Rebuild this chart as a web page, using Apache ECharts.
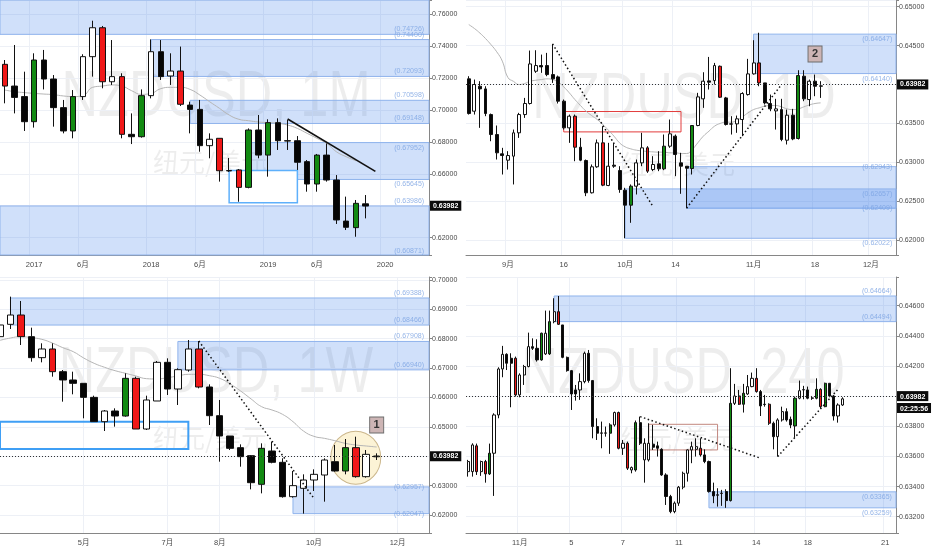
<!DOCTYPE html>
<html>
<head>
<meta charset="utf-8">
<title>NZDUSD</title>
<script src="https://cdn.jsdelivr.net/npm/echarts@6/dist/echarts.min.js"></script>
<style>
  html, body { margin: 0; padding: 0; background: #fff; }
  #main { width: 932px; height: 550px; }
</style>
</head>
<body>
<div id="main"></div>
<script>
// ---------- data ----------
// monthly (top left)
const tlMonths = ['2016-10','2016-11','2016-12',
  '2017-01','2017-02','2017-03','2017-04','2017-05','2017-06','2017-07','2017-08','2017-09','2017-10','2017-11','2017-12',
  '2018-01','2018-02','2018-03','2018-04','2018-05','2018-06','2018-07','2018-08','2018-09','2018-10','2018-11','2018-12',
  '2019-01','2019-02','2019-03','2019-04','2019-05','2019-06','2019-07','2019-08','2019-09','2019-10','2019-11','2019-12',
  '2020-01','2020-02','2020-03','2020-04','2020-05'];
const tlTicks = {'2017-01': '2017', '2017-06': '6月', '2018-01': '2018', '2018-06': '6月',
  '2019-01': '2019', '2019-06': '6月', '2020-01': '2020'};
// [open, close, low, high]
const tlOHLC = [
  [0.7285,0.7149,0.7041,0.7312],[0.7149,0.7078,0.6978,0.7406],[0.7083,0.6926,0.6868,0.7239],[0.6926,0.7312,0.6889,0.7354],
  [0.7312,0.7193,0.7128,0.7375],[0.7193,0.7014,0.6895,0.7218],[0.7014,0.6868,0.6853,0.7062],[0.6868,0.7083,0.6822,0.7124],
  [0.7083,0.7333,0.7062,0.7348],[0.7333,0.7514,0.7208,0.7558],[0.7514,0.7176,0.7135,0.7525],[0.7176,0.7208,0.7156,0.7437],
  [0.7208,0.6847,0.6822,0.7229],[0.6847,0.6832,0.6786,0.6978],[0.6832,0.7089,0.6826,0.7128],[0.7089,0.7364,0.7072,0.7441],
  [0.7364,0.7208,0.7187,0.7437],[0.7212,0.7243,0.7156,0.7354],[0.7243,0.7035,0.7024,0.7396],[0.7030,0.7003,0.6853,0.7051],
  [0.7003,0.6776,0.6738,0.7062],[0.6776,0.6816,0.6697,0.6853],[0.6822,0.6619,0.6551,0.6822],[0.6620,0.6618,0.6612,0.6699],
  [0.6624,0.6515,0.6425,0.6630],[0.6515,0.6874,0.6509,0.6884],[0.6874,0.6717,0.6697,0.6968],[0.6717,0.6920,0.6582,0.6941],
  [0.6920,0.6807,0.6749,0.6947],[0.6807,0.6805,0.6749,0.6937],[0.6807,0.6672,0.6624,0.6836],[0.6676,0.6536,0.6488,0.6686],
  [0.6536,0.6717,0.6488,0.6724],[0.6717,0.6561,0.6551,0.6790],[0.6561,0.6311,0.6286,0.6592],[0.6304,0.6265,0.6248,0.6457],
  [0.6263,0.6415,0.6206,0.6436],[0.6412,0.6398,0.6321,0.6467]];
const tlKinds = 'rbbgbbbgwwrwrbgwbwrbbwrbrgbgbbbbgbbbgb';
const tlMA = [0.7124,0.7114,0.7108,0.7103,0.7099,0.7095,0.7087,0.7083,0.7089,0.7141,0.7149,0.7156,0.7149,0.7120,0.7097,
  0.7103,0.7133,0.7141,0.7141,0.7128,0.7093,0.7051,0.7010,0.6968,0.6941,0.6932,0.6924,0.6920,0.6916,0.6905,0.6884,
  0.6853,0.6822,0.6790,0.6738,0.6707,0.6682];
const tlZones = [[null,0.74726,0.80],[15,0.72093,0.74400],[19,0.69148,0.70598],[25,0.65645,0.67952],[null,0.50,0.63986]];
const tlBox = [23, 30, 0.6419, 0.6620];
const tlLevels = [0.74726,0.74400,0.72093,0.70598,0.69148,0.67952,0.65645,0.63986,0.60871];
const tlLevelPlace = ['t','t','t','t','t','b','b','t','t'];
const tlTrend = [[29, 0.6943], [38, 0.6615]];

// daily (top right)
const trDays = ['08-22','08-23','08-26','08-27','08-28','08-29','08-30',
  '09-02','09-03','09-04','09-05','09-06','09-09','09-10','09-11','09-12','09-13','09-16','09-17','09-18','09-19','09-20',
  '09-23','09-24','09-25','09-26','09-27','09-30',
  '10-01','10-02','10-03','10-04','10-07','10-08','10-09','10-10','10-11','10-14','10-15','10-16','10-17','10-18',
  '10-21','10-22','10-23','10-24','10-25','10-28','10-29','10-30','10-31',
  '11-01','11-04','11-05','11-06','11-07','11-08','11-11','11-12','11-13','11-14','11-15','11-18','11-19','11-20','11-21','11-22',
  '11-25','11-26','11-27','11-28','11-29',
  '12-02','12-03','12-04','12-05','12-06'];
const trTicks = {'09-02': '9月', '09-16': '16', '10-01': '10月', '10-14': '14', '11-01': '11月', '11-18': '18', '12-02': '12月'};
const trOHLC = [
  [0.64072,0.63626,0.63613,0.64106],[0.63656,0.63999,0.63613,0.64063],[0.63977,0.63943,0.63442,0.64042],[0.63943,0.63626,0.63592,0.63977],
  [0.63613,0.63356,0.63270,0.63626],[0.63356,0.63121,0.63035,0.63472],[0.63108,0.63086,0.62842,0.63185],[0.63026,0.63086,0.62906,0.63142],
  [0.63078,0.63378,0.62714,0.63420],[0.63378,0.63613,0.63313,0.63635],[0.63613,0.63755,0.63570,0.63827],[0.63755,0.64264,0.63742,0.64436],
  [0.64170,0.64243,0.64149,0.64440],[0.64243,0.64226,0.64149,0.64384],[0.64243,0.64127,0.64106,0.64406],[0.64127,0.64072,0.64020,0.64521],
  [0.64097,0.63785,0.63755,0.64114],[0.63785,0.63442,0.63420,0.63806],[0.63442,0.63592,0.63249,0.63613],[0.63592,0.63193,0.63013,0.63613],
  [0.63193,0.63026,0.63013,0.63313],[0.63022,0.62607,0.62564,0.63035],[0.62607,0.62941,0.62598,0.62971],[0.62941,0.63249,0.62928,0.63292],
  [0.63249,0.62705,0.62692,0.63463],[0.62701,0.62949,0.62692,0.63249],[0.62962,0.62949,0.62928,0.63249],[0.62893,0.62649,0.62607,0.62949],
  [0.62641,0.62448,0.62022,0.62671],[0.62448,0.62692,0.62221,0.62714],[0.62692,0.62992,0.62585,0.63035],[0.62992,0.63185,0.62949,0.63378],
  [0.63185,0.62885,0.62863,0.63206],[0.62906,0.62971,0.62885,0.63078],[0.62979,0.62915,0.62885,0.63142],[0.62915,0.63206,0.62898,0.63356],
  [0.63206,0.63365,0.63185,0.63549],[0.63335,0.63099,0.62821,0.63356],[0.62992,0.62949,0.62594,0.63121],[0.62949,0.62923,0.62409,0.62950],
  [0.62919,0.63472,0.62842,0.63472],[0.63472,0.63840,0.63463,0.63892],[0.63815,0.64042,0.63699,0.64157],[0.64046,0.64029,0.63935,0.64354],
  [0.64050,0.64243,0.63999,0.64277],[0.64234,0.63836,0.63827,0.64243],[0.63827,0.63485,0.63472,0.63840],[0.63493,0.63490,0.63356,0.63592],
  [0.63493,0.63558,0.63378,0.63600],[0.63549,0.63883,0.63335,0.63900],[0.63870,0.64136,0.63857,0.64329],[0.64136,0.64277,0.64127,0.64569],
  [0.64277,0.64020,0.63977,0.64665],[0.64020,0.63763,0.63742,0.64020],[0.63755,0.63686,0.63656,0.63870],[0.63660,0.63686,0.63420,0.63815],
  [0.63677,0.63292,0.63270,0.63815],[0.63283,0.63605,0.63228,0.63677],[0.63605,0.63300,0.63283,0.63686],[0.63305,0.64114,0.63292,0.64183],
  [0.64106,0.63815,0.63785,0.64183],[0.63806,0.64042,0.63720,0.64063],[0.64042,0.63977,0.63849,0.64127],[0.63977,0.63982,0.63827,0.64042]];
const trKinds = 'bwbbbbbwwwwwwbbbbbwrbbwwrwbbbgwwrwbgwbbbgwwbwrbbwwwwrbbwbwbgbwbw';
const trMA = [0.64770,0.64720,0.64660,0.64590,0.64510,0.64420,0.64300,0.64090,0.64040,0.63999,0.64012,0.64042,0.64054,0.64063,
  0.64072,0.64063,0.64029,0.63969,0.63892,0.63806,0.63729,0.63656,0.63600,0.63549,0.63485,0.63412,0.63335,0.63249,0.63198,
  0.63172,0.63155,0.63146,0.63138,0.63133,0.63129,0.63129,0.63121,0.63121,0.63112,0.63112,0.63163,0.63249,0.63335,0.63399,
  0.63463,0.63498,0.63515,0.63515,0.63540,0.63583,0.63635,0.63677,0.63699,0.63720,0.63729,0.63729,0.63712,0.63686,0.63677,
  0.63686,0.63712,0.63737,0.63755,0.63763];
const trZones = [[51,0.64140,0.64647],[39,0.62409,0.62943],[28,0.62022,0.62657]];
const trBox = [17, 38, 0.63390, 0.63652];
const trLevels = [0.64647,0.64140,0.62943,0.62657,0.62409,0.62022];
const trLevelPlace = ['b','b','m','b','m','b'];
const trTrends = [[[15, 0.64521], [33, 0.62427]], [[39, 0.62409], [56, 0.63999]]];
const trNote = [62, 0.64392, '2'];

// weekly (bottom left)
const blWeeks = ['03-11','03-18','03-25','04-01','04-08','04-15','04-22','04-29','05-06','05-13','05-20','05-27',
  '06-03','06-10','06-17','06-24','07-01','07-08','07-15','07-22','07-29','08-05','08-12','08-19','08-26',
  '09-02','09-09','09-16','09-23','09-30','10-07','10-14','10-21','10-28','11-04','11-11','11-18','11-25',
  '12-02','12-09','12-16','12-23'];
const blTicks = {'05-06': '5月', '07-01': '7月', '08-05': '8月', '10-07': '10月', '12-02': '12月'};
const blOHLC = [
  [0.68071,0.68468,0.68014,0.68525],[0.68491,0.68808,0.68332,0.69433],[0.68808,0.68071,0.67787,0.69285],[0.68071,0.67356,0.67220,0.68377],
  [0.67356,0.67651,0.67197,0.67844],[0.67651,0.66879,0.66709,0.67844],[0.66879,0.66596,0.65858,0.66936],[0.66596,0.66482,0.66108,0.66879],
  [0.66482,0.66005,0.65291,0.66482],[0.66005,0.65177,0.65177,0.66062],[0.65177,0.65540,0.64859,0.65574],[0.65540,0.65370,0.65007,0.65631],
  [0.65370,0.66652,0.65347,0.66823],[0.66652,0.64927,0.64927,0.66709],[0.64927,0.65915,0.64893,0.66062],[0.65881,0.67197,0.65881,0.67242],
  [0.67197,0.66289,0.66085,0.67333],[0.66289,0.66947,0.65745,0.66993],[0.66936,0.67651,0.66879,0.67957],[0.67651,0.66357,0.66312,0.67923],
  [0.66357,0.65381,0.65064,0.66448],[0.65381,0.64689,0.63815,0.65915],[0.64689,0.64269,0.64212,0.64689],[0.64292,0.63986,0.63645,0.64405],
  [0.64020,0.63100,0.62873,0.64042],[0.63044,0.64269,0.62737,0.64439],[0.64178,0.63793,0.63759,0.64496],[0.63793,0.62624,0.62590,0.63929],
  [0.62624,0.62999,0.62590,0.63498],[0.62908,0.63191,0.62047,0.63384],[0.63191,0.63384,0.62817,0.63554],[0.63361,0.63872,0.62454,0.63929],
  [0.63815,0.63498,0.63475,0.64383],[0.63498,0.64292,0.63384,0.64587],[0.64292,0.63305,0.63271,0.64666],[0.63305,0.64065,0.63271,0.64213],
  [0.64008,0.63982,0.63872,0.64099]];
const blKinds = 'wwrbwrbbbbwbgrwwbwwrbbbbbgbbwwwwbgrwb';
const blMA = [0.67946,0.68025,0.68071,0.68037,0.67980,0.67855,0.67696,0.67560,0.67345,0.67163,0.67027,0.66913,0.66823,
  0.66732,0.66641,0.66630,0.66675,0.66732,0.66789,0.66789,0.66743,0.66652,0.66459,0.66221,0.65949,0.65688,0.65574,
  0.65427,0.65177,0.64859,0.64678,0.64610,0.64530,0.64439,0.64383,0.64349,0.64315];
const blZones = [[1,0.68466,0.69388],[17,0.66940,0.67908],[28,0.62047,0.62957]];
const blBox = [null, 18, 0.64247, 0.65177];
const blLevels = [0.69388,0.68466,0.67908,0.66940,0.62957,0.62047];
const blLevelPlace = ['t','t','t','t','m','m'];
const blTrend = [[19, 0.67923], [30, 0.62567]];
const blNote = [36, 0.65064, '1'];
const blCircle = [34, 0.63951];

// 4 hour (bottom right)
const brBars = Array.from({length: 100}, (_, i) => String(i));
const brTicks = {'12': '11月', '24': '5', '36': '7', '49': '11', '67': '14', '79': '18', '97': '21'};
const brOHLC = [
  [0.63499,0.63566,0.63466,0.63577],[0.63499,0.63676,0.63466,0.63687],[0.63670,0.63499,0.63477,0.63685],[0.63499,0.63566,0.63471,0.63572],
  [0.63566,0.63484,0.63426,0.63577],[0.63484,0.63621,0.63477,0.63685],[0.63621,0.63875,0.63338,0.63886],[0.63875,0.64180,0.63853,0.64191],
  [0.64180,0.64277,0.64125,0.64333],[0.64277,0.64218,0.64173,0.64284],[0.64251,0.64218,0.63926,0.64284],[0.64251,0.64008,0.63997,0.64262],
  [0.64008,0.64140,0.63992,0.64151],[0.64140,0.64196,0.64074,0.64207],[0.64196,0.64328,0.64191,0.64421],[0.64328,0.64317,0.64306,0.64383],
  [0.64317,0.64240,0.64229,0.64377],[0.64240,0.64417,0.64235,0.64421],[0.64280,0.64417,0.64273,0.64567],[0.64280,0.64494,0.64273,0.64567],
  [0.64494,0.64560,0.64483,0.64649],[0.64560,0.64476,0.64472,0.64664],[0.64472,0.64257,0.64251,0.64472],[0.64257,0.64169,0.64162,0.64262],
  [0.64169,0.64014,0.63908,0.64173],[0.64041,0.64014,0.63970,0.64074],[0.64041,0.64096,0.63975,0.64151],[0.64096,0.64284,0.64085,0.64295],
  [0.64284,0.64103,0.64089,0.64306],[0.64103,0.63798,0.63720,0.64107],[0.63798,0.63754,0.63709,0.63853],[0.63756,0.63754,0.63654,0.63831],
  [0.63754,0.63756,0.63731,0.63798],[0.63754,0.63809,0.63617,0.63820],[0.63809,0.63891,0.63798,0.63897],[0.63891,0.63654,0.63647,0.63897],
  [0.63654,0.63687,0.63610,0.63709],[0.63687,0.63522,0.63510,0.63698],[0.63510,0.63526,0.63488,0.63533],[0.63510,0.63824,0.63499,0.63838],
  [0.63824,0.63687,0.63676,0.63864],[0.63577,0.63687,0.63426,0.63720],[0.63577,0.63687,0.63566,0.63820],[0.63681,0.63661,0.63643,0.63809],
  [0.63670,0.63654,0.63599,0.63698],[0.63647,0.63477,0.63471,0.63654],[0.63477,0.63334,0.63278,0.63488],[0.63334,0.63234,0.63223,0.63345],
  [0.63234,0.63290,0.63223,0.63301],[0.63290,0.63396,0.63272,0.63404],[0.63396,0.63488,0.63382,0.63499],[0.63488,0.63643,0.63433,0.63647],
  [0.63643,0.63665,0.63555,0.63698],[0.63647,0.63665,0.63599,0.63720],[0.63654,0.63610,0.63599,0.63720],[0.63610,0.63566,0.63555,0.63647],
  [0.63566,0.63367,0.63360,0.63572],[0.63367,0.63338,0.63290,0.63426],[0.63345,0.63343,0.63267,0.63389],[0.63354,0.63356,0.63272,0.63378],
  [0.63367,0.63307,0.63259,0.63382],[0.63307,0.63952,0.63301,0.64185],[0.63952,0.64001,0.63941,0.64081],[0.64001,0.63946,0.63941,0.64041],
  [0.63946,0.64019,0.63891,0.64081],[0.64014,0.64063,0.64008,0.64140],[0.64063,0.64118,0.64059,0.64156],[0.64118,0.64030,0.64023,0.64185],
  [0.64030,0.63935,0.63868,0.64041],[0.63946,0.63944,0.63930,0.64008],[0.63946,0.63820,0.63809,0.63952],[0.63820,0.63731,0.63647,0.63831],
  [0.63731,0.63842,0.63599,0.63853],[0.63842,0.63897,0.63831,0.63930],[0.63897,0.63842,0.63831,0.63919],[0.63846,0.63809,0.63787,0.63864],
  [0.63802,0.63986,0.63725,0.63997],[0.63986,0.64036,0.63979,0.64103],[0.64041,0.64043,0.63979,0.64068],[0.64041,0.63986,0.63979,0.64063],
  [0.63988,0.63986,0.63975,0.64001],[0.63986,0.64045,0.63979,0.64118],[0.64045,0.63930,0.63919,0.64052],[0.63930,0.64085,0.63926,0.64089],
  [0.64085,0.64001,0.63992,0.64085],[0.64001,0.63868,0.63838,0.64008],[0.63868,0.63941,0.63824,0.63952],[0.63941,0.63982,0.63935,0.63992]];
const brKinds = 'wwrwrgwwwbbrwwwbbgwgwrbbbbwwbbbbwgwrwrwgbwwbbbbbwwwwwwrbbbbwbgwrgwwrbbrbwwbbgwwbbgrgbbww';
const brZones = [[20,0.64494,0.64664],[56,0.63259,0.63365]];
const brBox = [42, 58, 0.63643, 0.63813];
const brLevels = [0.64664,0.64494,0.63365,0.63259];
const brLevelPlace = ['t','t','b','b'];
const brTrends = [[[40, 0.63864], [68, 0.63588]], [[72, 0.63599], [86, 0.64045]]];

const lastPrice = 0.63982;
const countdown = '02:25:56';

// ---------- helpers ----------
const FONT = '"Liberation Sans", "Noto Sans CJK SC", sans-serif';
const bodyFill = {w: '#ffffff', b: '#050505', r: '#f01818', g: '#128a12'};
const zoneStyle = {color: 'rgba(33,110,230,0.21)', borderColor: '#8fb3ec', borderWidth: 1};
const gridColor = '#edf0f6';
const axisColor = '#868686';
const textColor = '#4a4a4a';
const hidden = {color: 'rgba(0,0,0,0)', width: 1, type: 'solid'};

function candleData(ohlc, kinds) {
  return ohlc.map((v, i) => {
    const c = bodyFill[kinds[i]];
    return {value: v, itemStyle: {color: c, color0: c, borderColor: '#111', borderColor0: '#111', borderWidth: 1}};
  });
}

function areaData(zones, box, boxStyle) {
  const out = zones.map(z => {
    const a = {yAxis: z[1], itemStyle: zoneStyle};
    if (z[0] != null) a.xAxis = z[0];
    return [a, {yAxis: z[2]}];
  });
  const b0 = {yAxis: box[2], itemStyle: boxStyle};
  if (box[0] != null) b0.xAxis = box[0];
  out.push([b0, {xAxis: box[1], yAxis: box[3]}]);
  return out;
}

// price labels of the zones, hung on the last category of the panel
function levelSeries(i, cats, levels, places, gap) {
  const shift = {t: -5, b: 5, m: 0};
  return {
    type: 'scatter', xAxisIndex: i, yAxisIndex: i, z: 4, silent: true, clip: false,
    symbol: 'circle', symbolSize: 0, itemStyle: {color: 'rgba(0,0,0,0)'},
    data: levels.map((v, k) => ({
      value: [cats.length - 1, v],
      label: {show: true, position: 'left', distance: gap, offset: [0, shift[places[k]]],
        formatter: '(' + v.toFixed(5) + ')', color: '#7ba3e2', fontSize: 7, fontFamily: FONT}
    }))
  };
}

function priceData(drawLine, timer) {
  const label = timer
    ? {show: true, position: 'end', distance: 1, fontFamily: FONT,
       formatter: '{e|0}\n{a|' + lastPrice.toFixed(5) + '}\n{b|' + timer + '}',
       rich: {
         e: {color: 'rgba(0,0,0,0)', fontSize: 7, lineHeight: 12},
         a: {color: '#fff', backgroundColor: '#0b0b0b', fontSize: 7, fontWeight: 'bold', padding: [2, 3, 1, 3], lineHeight: 12},
         b: {color: '#fff', backgroundColor: '#0b0b0b', fontSize: 7, fontWeight: 'bold', padding: [2, 3, 1, 3], lineHeight: 12}
       }}
    : {show: true, position: 'end', distance: 1, formatter: lastPrice.toFixed(5), fontFamily: FONT,
       color: '#fff', backgroundColor: '#0b0b0b', fontSize: 7, fontWeight: 'bold', padding: [2, 3, 1, 3]};
  return {
    yAxis: lastPrice,
    lineStyle: drawLine ? {color: '#333', width: 1, type: [1, 2]} : hidden,
    label
  };
}

function trendData(p, dotted) {
  return [{coord: p[0], label: {show: false},
    lineStyle: dotted ? {color: '#111', width: 1.5, type: [1.5, 2.5]} : {color: '#111', width: 1.6, type: 'solid'}},
    {coord: p[1]}];
}

function xAxisOf(i, cats, ticks, gap) {
  const has = (idx, v) => ticks[v] != null;
  return {
    type: 'category', gridIndex: i, data: cats, boundaryGap: gap,
    axisLine: {lineStyle: {color: axisColor}},
    axisTick: {show: false},
    axisLabel: {interval: has, formatter: v => ticks[v] || '', color: textColor, fontSize: 7.5, margin: 6, fontFamily: FONT},
    splitLine: {show: true, interval: has, lineStyle: {color: gridColor}}
  };
}

function yAxisOf(i, min, max, step) {
  return {
    type: 'value', gridIndex: i, position: 'right', min, max, minInterval: step, maxInterval: step,
    axisLine: {show: true, lineStyle: {color: axisColor}},
    axisTick: {show: true, length: 3, lineStyle: {color: axisColor}},
    axisLabel: {color: textColor, fontSize: 7, margin: 3, fontFamily: FONT,
      formatter: v => Math.abs(v / step - Math.round(v / step)) < 1e-6 ? v.toFixed(5) : ''},
    splitLine: {show: true, lineStyle: {color: gridColor}}
  };
}

function noteData(n) {
  return [{coord: [n[0], n[1]], symbol: 'rect', symbolSize: [14, 16],
    itemStyle: {color: '#cdb5b5', borderColor: '#6c6c6c', borderWidth: 1},
    label: {show: true, position: 'inside', formatter: n[2], color: '#333', fontSize: 11, fontWeight: 'bold', fontFamily: FONT}}];
}

function maSeries(i, values) {
  return {type: 'line', xAxisIndex: i, yAxisIndex: i, data: values, showSymbol: false, symbol: 'none', smooth: true,
    lineStyle: {color: '#b5b5b5', width: 1}, silent: true, z: 2};
}

function watermark(x, y, title) {
  return [
    {type: 'text', x: x, y: y, scaleX: 0.79, z: -10, silent: true,
      style: {text: title, font: '64px "Liberation Sans", sans-serif', fill: 'rgba(0,0,0,0.07)', align: 'center', verticalAlign: 'middle'}},
    {type: 'text', x: x - 6, y: y + 64, z: -10, silent: true,
      style: {text: '纽元/美元', font: '26px "Noto Sans CJK SC", sans-serif', fill: 'rgba(0,0,0,0.07)', align: 'center', verticalAlign: 'middle'}}
  ];
}

const whiteBox = {color: '#ffffff', borderColor: '#5eb0fb', borderWidth: 1.5};
const blueBox = {color: 'rgba(0,0,0,0)', borderColor: '#3f9ff5', borderWidth: 2};
const redBox = {color: 'rgba(0,0,0,0)', borderColor: '#e23c3c', borderWidth: 1};
const brownBox = {color: 'rgba(0,0,0,0)', borderColor: '#c2877f', borderWidth: 1};

const chart = echarts.init(document.getElementById('main'), null, {renderer: 'canvas'});

chart.setOption({
  animation: false,
  backgroundColor: '#ffffff',
  textStyle: {fontFamily: FONT},
  graphic: [].concat(
    watermark(216, 98, 'NZDUSD, 1M'),
    watermark(684, 100, 'NZDUSD, 1D'),
    watermark(216, 374, 'NZDUSD, 1W'),
    watermark(683, 375, 'NZDUSD, 240')
  ),
  grid: [
    {left: 0, top: 0, width: 429, height: 255},
    {left: 466, top: 0, width: 430, height: 255},
    {left: 0, top: 277, width: 429, height: 256},
    {left: 466, top: 277, width: 430, height: 256}
  ],
  xAxis: [
    xAxisOf(0, tlMonths, tlTicks, true),
    xAxisOf(1, trDays, trTicks, true),
    xAxisOf(2, blWeeks, blTicks, false),
    xAxisOf(3, brBars, brTicks, true)
  ],
  yAxis: [
    yAxisOf(0, 0.60917, 0.76876, 0.02),
    yAxisOf(1, 0.61807, 0.65086, 0.005),
    yAxisOf(2, 0.61387, 0.70102, 0.01),
    yAxisOf(3, 0.63092, 0.64790, 0.002)
  ],
  series: [
    {
      type: 'candlestick', xAxisIndex: 0, yAxisIndex: 0, barWidth: 6, data: candleData(tlOHLC, tlKinds),
      markArea: {silent: true, data: areaData(tlZones, tlBox, whiteBox)},
      markLine: {silent: true, symbol: ['none', 'none'], label: {show: false},
        data: [priceData(false), trendData(tlTrend, false)]}
    },
    maSeries(0, tlMA),
    levelSeries(0, tlMonths, tlLevels, tlLevelPlace, 0),
    {
      type: 'candlestick', xAxisIndex: 1, yAxisIndex: 1, barWidth: 3.4, data: candleData(trOHLC, trKinds),
      markArea: {silent: true, data: areaData(trZones, trBox, redBox)},
      markLine: {silent: true, symbol: ['none', 'none'], label: {show: false},
        data: [priceData(true)].concat(trTrends.map(t => trendData(t, true)))},
      markPoint: {silent: true, data: noteData(trNote)}
    },
    maSeries(1, trMA),
    levelSeries(1, trDays, trLevels, trLevelPlace, 1),
    {
      type: 'scatter', xAxisIndex: 2, yAxisIndex: 2, z: 1, silent: true, symbol: 'circle', symbolSize: [50, 53],
      data: [blCircle], itemStyle: {color: '#fcf3d6', borderColor: '#cbb68b', borderWidth: 1, opacity: 1}
    },
    {
      type: 'candlestick', xAxisIndex: 2, yAxisIndex: 2, barWidth: 7, data: candleData(blOHLC, blKinds),
      markArea: {silent: true, data: areaData(blZones, blBox, blueBox)},
      markLine: {silent: true, symbol: ['none', 'none'], label: {show: false},
        data: [priceData(true), trendData(blTrend, true)]},
      markPoint: {silent: true, data: noteData(blNote)}
    },
    maSeries(2, blMA),
    levelSeries(2, blWeeks, blLevels, blLevelPlace, 5),
    {
      type: 'candlestick', xAxisIndex: 3, yAxisIndex: 3, barWidth: 2.6, data: candleData(brOHLC, brKinds),
      markArea: {silent: true, data: areaData(brZones, brBox, brownBox)},
      markLine: {silent: true, symbol: ['none', 'none'], label: {show: false},
        data: [priceData(true, countdown)].concat(brTrends.map(t => trendData(t, true)))}
    },
    levelSeries(3, brBars, brLevels, brLevelPlace, 2)
  ]
});
</script>
</body>
</html>
